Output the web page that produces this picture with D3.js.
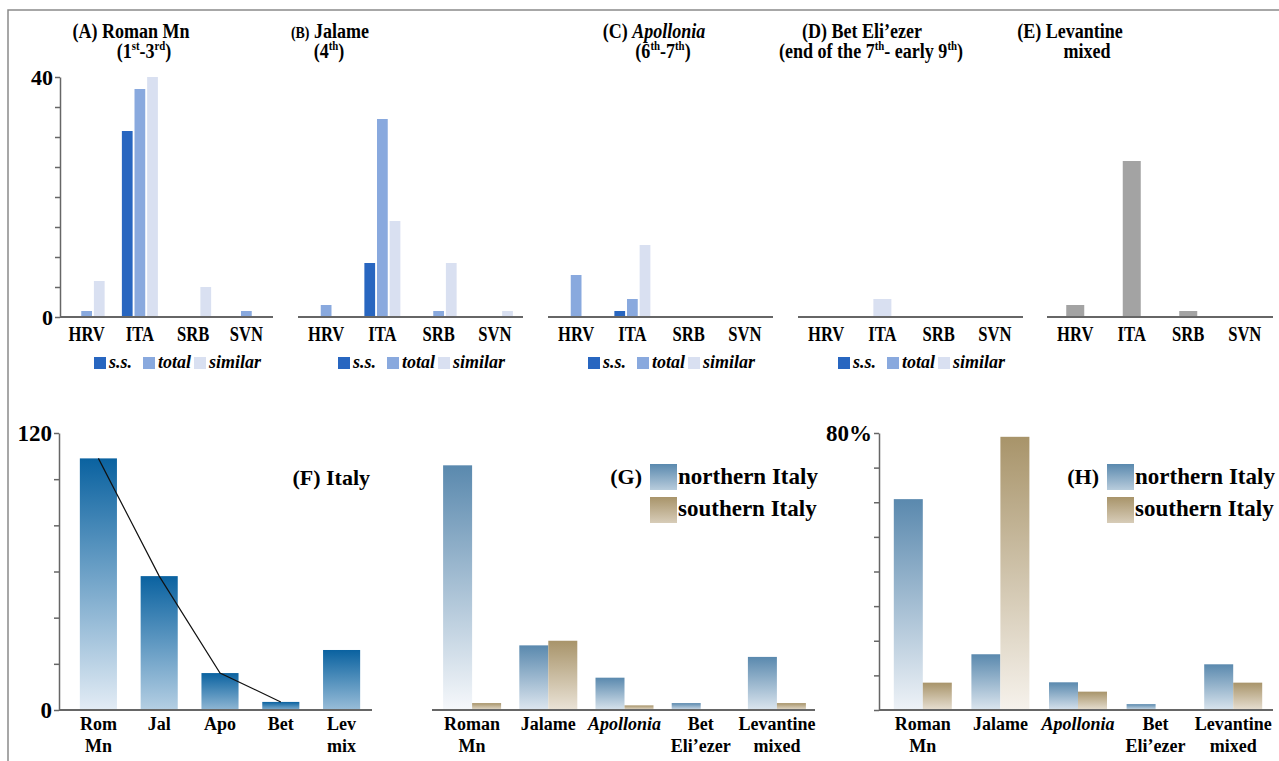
<!DOCTYPE html>
<html>
<head>
<meta charset="utf-8">
<script src="https://cdn.jsdelivr.net/npm/d3@7"></script>
<style>
  body { margin: 0; background: #fff; }
  svg text { font-family: "Liberation Serif", "DejaVu Serif", serif; font-weight: bold; fill: #000; }
</style>
</head>
<body>
<svg width="1279" height="761"></svg>
<script>
// ---- data, top row (counts per country) ----
const countries = ["HRV", "ITA", "SRB", "SVN"];
const seriesNames = ["s.s.", "total", "similar"];

const romanSS = [0, 31, 0, 0];
const romanTotal = [1, 38, 0, 1];
const romanSimilar = [6, 40, 5, 0];

const jalameSS = [0, 9, 0, 0];
const jalameTotal = [2, 33, 1, 0];
const jalameSimilar = [0, 16, 9, 1];

const apolloniaSS = [0, 1, 0, 0];
const apolloniaTotal = [7, 3, 0, 0];
const apolloniaSimilar = [0, 12, 0, 0];

const betSS = [0, 0, 0, 0];
const betTotal = [0, 0, 0, 0];
const betSimilar = [0, 3, 0, 0];

const levantineMixed = [2, 26, 1, 0];

// ---- data, bottom row ----
const periods = ["Rom Mn", "Jal", "Apo", "Bet", "Lev mix"];
const italyTotal = [109, 58, 16, 3.5, 26];
const trendPeriods = ["Rom Mn", "Jal", "Apo", "Bet"];

const sites = ["Roman Mn", "Jalame", "Apollonia", "Bet Eli’ezer", "Levantine mixed"];
const northCount = [106, 28, 14, 3, 23];
const southCount = [3, 30, 2, 0, 3];
const northPct = [60.9, 16.1, 8.0, 1.7, 13.2];
const southPct = [7.9, 78.9, 5.3, 0, 7.9];

// colours
const seriesColor = { "s.s.": "#2866c0", "total": "#89a9de", "similar": "#d9e0f1" };
const greyColor = "#a3a3a3";
const axisColor = "#666";

const svg = d3.select("svg");
const defs = svg.append("defs");

// frame round the figure
svg.append("path")
  .attr("d", "M8,761V10H1279")
  .attr("fill", "none")
  .attr("stroke", "#8a8a8a")
  .attr("stroke-width", 1.5);

// text with optional superscripts / italics, squeezed horizontally by sx
function addText(parent, x, y, parts, o = {}) {
  const t = parent.append("text")
    .attr("transform", `translate(${x},${y}) scale(${o.sx || 1},1)`)
    .attr("text-anchor", o.anchor || "middle")
    .style("font-size", (o.size || 18) + "px");
  let raised = false;
  parts.forEach(p => {
    if (typeof p === "string") p = { t: p };
    const s = t.append("tspan").text(p.t);
    if (p.sup) {
      s.style("font-size", "0.6em").attr("dy", raised ? 0 : -8);
      raised = true;
    } else if (raised) {
      s.attr("dy", 8);
      raised = false;
    }
    if (p.it) s.style("font-style", "italic");
    if (p.size) s.style("font-size", p.size + "px");
  });
  return t;
}

function styleAxis(g, size) {
  g.attr("font-family", null).attr("font-size", null);
  g.select(".domain").attr("stroke", axisColor).attr("stroke-width", 1.5);
  g.selectAll(".tick line").attr("stroke", axisColor).attr("stroke-width", 1.5);
  g.selectAll(".tick text").style("font-size", size + "px").attr("fill", "#000");
}

function baseline(x0, x1, y) {
  svg.append("line")
    .attr("x1", x0).attr("x2", x1).attr("y1", y).attr("y2", y)
    .attr("stroke", axisColor).attr("stroke-width", 2);
}

function gradient(id, top, light, frac) {
  const g = defs.append("linearGradient").attr("id", id)
    .attr("x1", 0).attr("y1", 0).attr("x2", 0).attr("y2", 1);
  g.append("stop").attr("offset", 0).attr("stop-color", top);
  g.append("stop").attr("offset", 1).attr("stop-color", d3.interpolateRgb(top, light)(frac));
  return `url(#${id})`;
}

// =================== TOP ROW ===================
const yTop = d3.scaleLinear().domain([0, 40]).range([317, 77]);

const topPanels = [
  { range: [60, 273], data: [romanSS, romanTotal, romanSimilar], drawn: seriesNames, legend: true, axis: true },
  { range: [298, 523], data: [jalameSS, jalameTotal, jalameSimilar], drawn: seriesNames, legend: true },
  { range: [548, 773], data: [apolloniaSS, apolloniaTotal, apolloniaSimilar], drawn: seriesNames, legend: true },
  { range: [798, 1023], data: [betSS, betTotal, betSimilar], drawn: ["similar"], legend: true },
  { range: [1047, 1273], data: [levantineMixed], drawn: ["mixed"], grey: true }
];

const titles = [
  { x: 131, l1: ["(A) Roman Mn"], x2: 144, l2: ["(1", { t: "st", sup: 1 }, "-3", { t: "rd", sup: 1 }, ")"] },
  { x: 330, l1: [{ t: "(B)", size: 17 }, " Jalame"], x2: 329, l2: ["(4", { t: "th", sup: 1 }, ")"] },
  { x: 654, l1: ["(C) ", { t: "Apollonia", it: 1 }], x2: 663, l2: ["(6", { t: "th", sup: 1 }, "-7", { t: "th", sup: 1 }, ")"] },
  { x: 862, l1: ["(D) Bet Eli’ezer"], x2: 871, l2: ["(end of the 7", { t: "th", sup: 1 }, "- early 9", { t: "th", sup: 1 }, ")"] },
  { x: 1070, l1: ["(E) Levantine"], x2: 1087, l2: ["mixed"] }
];

titles.forEach(t => {
  addText(svg, t.x, 38, t.l1, { size: 22, sx: 0.82 });
  addText(svg, t.x2, 58, t.l2, { size: 22, sx: 0.82 });
});

topPanels.forEach(p => {
  const x = d3.scaleBand().domain(countries).range(p.range);
  const multi = p.drawn.length > 1;
  const inner = d3.scaleBand().domain(p.drawn)
    .range(multi ? [-18, 18] : [-9, 9])
    .paddingInner(multi ? 0.15 : 0);

  const rows = [];
  countries.forEach((c, i) => {
    p.drawn.forEach(s => {
      const k = p.grey ? 0 : seriesNames.indexOf(s);
      rows.push({ c, s, v: p.data[k][i] });
    });
  });

  svg.append("g").selectAll("rect")
    .data(rows.filter(d => d.v > 0))
    .join("rect")
    .attr("x", d => x(d.c) + x.bandwidth() / 2 + inner(d.s))
    .attr("width", inner.bandwidth())
    .attr("y", d => yTop(d.v))
    .attr("height", d => yTop(0) - yTop(d.v))
    .attr("fill", d => p.grey ? greyColor : seriesColor[d.s]);

  baseline(p.range[0], p.range[1], yTop(0));

  countries.forEach(c => {
    addText(svg, x(c) + x.bandwidth() / 2, 341, [c], { size: 20, sx: 0.83 });
  });

  if (p.axis) {
    const ax = svg.append("g")
      .attr("transform", `translate(${p.range[0]},0)`)
      .call(d3.axisLeft(yTop).tickValues(d3.range(0, 41, 5))
        .tickFormat(d => (d === 0 || d === 40) ? d : "")
        .tickSize(5).tickSizeOuter(0).tickPadding(2));
    styleAxis(ax, 22);
  }

  if (p.legend) {
    const cx = (p.range[0] + p.range[1]) / 2 + 9.5 - 82;
    const offs = [0, 49, 100];
    seriesNames.forEach((s, i) => {
      svg.append("rect")
        .attr("x", cx + offs[i]).attr("y", 357)
        .attr("width", 12).attr("height", 12)
        .attr("fill", seriesColor[s]);
      addText(svg, cx + offs[i] + 15, 368, [{ t: s, it: 1 }], { size: 18, anchor: "start" });
    });
  }
});

// =================== BOTTOM ROW ===================
const yF = d3.scaleLinear().domain([0, 120]).range([710, 433]);
const yH = d3.scaleLinear().domain([0, 80]).range([710, 433]);

function bottomLabels(x, names) {
  names.forEach(n => {
    const lines = n.split(" ");
    const cx = x(n) + x.bandwidth() / 2;
    lines.forEach((l, i) => {
      addText(svg, cx, 730 + i * 22, [{ t: l, it: l === "Apollonia" }], { size: 18 });
    });
  });
}

// ---- (F) Italy ----
const xF = d3.scaleBand().domain(periods).range([68, 372]).paddingInner(0.39).paddingOuter(0.195);
const maxF = d3.max(italyTotal);

svg.append("g").selectAll("rect")
  .data(periods.map((p, i) => ({ p, v: italyTotal[i], i })))
  .join("rect")
  .attr("x", d => xF(d.p))
  .attr("width", xF.bandwidth())
  .attr("y", d => yF(d.v))
  .attr("height", d => yF(0) - yF(d.v))
  .attr("fill", d => gradient("gF" + d.i, "#0a62a0", "#e3ecf5", 0.55 + 0.45 * d.v / maxF));

const trend = d3.line()
  .x(d => xF(d.p) + xF.bandwidth() / 2)
  .y(d => yF(d.v));
svg.append("path")
  .datum(trendPeriods.map(p => ({ p, v: italyTotal[periods.indexOf(p)] })))
  .attr("d", trend)
  .attr("fill", "none")
  .attr("stroke", "#111")
  .attr("stroke-width", 1.2);

baseline(59, 372, yF(0));
const axF = svg.append("g")
  .attr("transform", "translate(59,0)")
  .call(d3.axisLeft(yF).tickValues(d3.range(0, 121, 20))
    .tickFormat(d => (d === 0 || d === 120) ? d : "")
    .tickSize(5).tickSizeOuter(0).tickPadding(2));
styleAxis(axF, 23);
bottomLabels(xF, periods);
addText(svg, 370, 485, ["(F) Italy"], { size: 22, anchor: "end" });

// ---- (G) and (H) north / south ----
const regions = ["north", "south"];
const regionTop = { north: "#5a89ae", south: "#a8946a" };
const regionLight = { north: "#f6f8fb", south: "#f6f2ec" };

function pairPanel(tag, range, yScale, north, south) {
  const x = d3.scaleBand().domain(sites).range(range);
  const inner = d3.scaleBand().domain(regions).range([-29, 29]);
  const maxV = d3.max(north.concat(south));
  const rows = [];
  sites.forEach((s, i) => {
    rows.push({ s, r: "north", v: north[i], i });
    rows.push({ s, r: "south", v: south[i], i });
  });

  svg.append("g").selectAll("rect")
    .data(rows.filter(d => d.v > 0))
    .join("rect")
    .attr("x", d => x(d.s) + x.bandwidth() / 2 + inner(d.r))
    .attr("width", inner.bandwidth())
    .attr("y", d => yScale(d.v))
    .attr("height", d => yScale(0) - yScale(d.v))
    .attr("fill", d => gradient(`g${tag}${d.r}${d.i}`, regionTop[d.r], regionLight[d.r], 0.78 + 0.22 * d.v / maxV));

  bottomLabels(x, sites);

  // legend
  const bx = range[1] - 165;
  regions.forEach((r, i) => {
    svg.append("rect")
      .attr("x", bx).attr("y", 464 + i * 33)
      .attr("width", 27).attr("height", 26)
      .attr("fill", gradient(`leg${tag}${r}`, regionTop[r], regionLight[r], 0.6));
    addText(svg, bx + 28, 484 + i * 32, [r === "north" ? "northern Italy" : "southern Italy"], { size: 23, anchor: "start" });
  });
  addText(svg, bx - 8, 484, [`(${tag})`], { size: 22, anchor: "end" });
  return x;
}

const xG = pairPanel("G", [434, 815], yF, northCount, southCount);
baseline(432, 815, yF(0));

const xH = pairPanel("H", [884, 1272], yH, northPct, southPct);
baseline(879, 1273, yH(0));
const axH = svg.append("g")
  .attr("transform", "translate(879,0)")
  .call(d3.axisLeft(yH).tickValues(d3.range(0, 81, 10))
    .tickFormat(d => d === 80 ? "80%" : "")
    .tickSize(5).tickSizeOuter(0).tickPadding(2));
styleAxis(axH, 23);
</script>
</body>
</html>
